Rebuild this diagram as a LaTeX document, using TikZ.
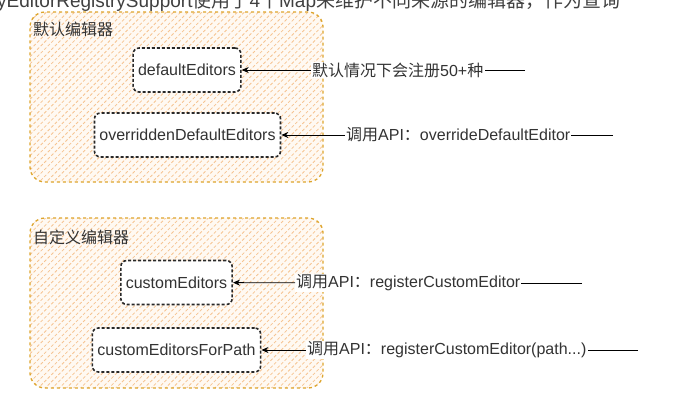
\documentclass[tikz,border=0pt]{standalone}
\usepackage{fontspec}
\setmainfont{Liberation Sans}
\newfontfamily\zhfont{Noto Sans CJK SC}
\newcommand{\zh}[1]{{\zhfont #1}}
\usetikzlibrary{positioning, arrows.meta, patterns.meta}

\definecolor{grpborder}{RGB}{222,165,45}
\definecolor{grphatch}{RGB}{246,196,145}
\definecolor{boxborder}{RGB}{40,40,40}

\begin{document}
\begin{tikzpicture}[x=1pt, y=-1pt, >={Stealth[length=7pt,width=6pt]},
      font=\fontsize{16}{19}\selectfont,
      group/.style={draw=grpborder, line width=1.3pt, dash pattern=on 3pt off 3pt, rounded corners=15pt,
        preaction={fill=orange!5}, pattern={Lines[angle=45,distance=5pt,line width=0.8pt]}, pattern color=grphatch,
        minimum width=293pt, minimum height=170pt, inner sep=0pt},
      editor/.style={draw=boxborder, line width=1.6pt, dash pattern=on 3pt off 2pt, rounded corners=6pt,
        fill=white, minimum height=44pt, inner xsep=5pt, text=black!80},
      grplbl/.style={anchor=west, inner sep=1pt, text=black!80},
      lbl/.style={anchor=west, fill=white, inner sep=1pt, text=black!80}]
    \useasboundingbox (0,0) rectangle (689,405);
    % cropped heading of the page
    \node[anchor=base west, inner sep=0pt, font=\fontsize{19}{22}\selectfont, text=black!75] (heading) at (-3,7)
      {yEditorRegistrySupport\zh{使用了}4\zh{个}Map\zh{来维护不同来源的编辑器，作为查询}};
    % default editors
    \node[group] (grpdefault) at (176.5,97) {};
    \node[grplbl] (lbldefaultgrp) at (32,29) {\zh{默认编辑器}};
    \node[editor] (defaulted) at (187,70) {defaultEditors};
    \node[editor] (overridden) at (187.5,135) {overriddenDefaultEditors};
    % custom editors
    \node[group] (grpcustom) at (176.5,303) {};
    \node[grplbl] (lblcustomgrp) at (32,237) {\zh{自定义编辑器}};
    \node[editor] (custom) at (176.5,282.5) {customEditors};
    \node[editor] (custompath) at (176.5,350) {customEditorsForPath};
    % sources
    \node[lbl] (lbldefault) at (311,70) {\zh{默认情况下会注册}50+\zh{种}};
    \node[lbl] (lbloverride) at (345,135) {\zh{调用}API\zh{：}overrideDefaultEditor};
    \node[lbl] (lblcustom) at (295,283) {\zh{调用}API\zh{：}registerCustomEditor};
    \node[lbl] (lblpath) at (306,350) {\zh{调用}API\zh{：}registerCustomEditor(path...)};
    \coordinate (enddefault) at (525,70);
    \coordinate (endoverride) at (613,135);
    \coordinate (endcustom) at (582,283);
    \coordinate (endpath) at (638,350);
    \draw[line width=0.8pt] (enddefault) -- (lbldefault);
    \draw[line width=0.8pt, ->] (lbldefault) -- (defaulted);
    \draw[line width=0.8pt] (endoverride) -- (lbloverride);
    \draw[line width=0.8pt, ->] (lbloverride) -- (overridden);
    \draw[line width=0.8pt] (endcustom) -- (lblcustom);
    \draw[line width=0.8pt, ->] (lblcustom) -- (custom);
    \draw[line width=0.8pt] (endpath) -- (lblpath);
    \draw[line width=0.8pt, ->] (lblpath) -- (custompath);
  \end{tikzpicture}
\end{document}
